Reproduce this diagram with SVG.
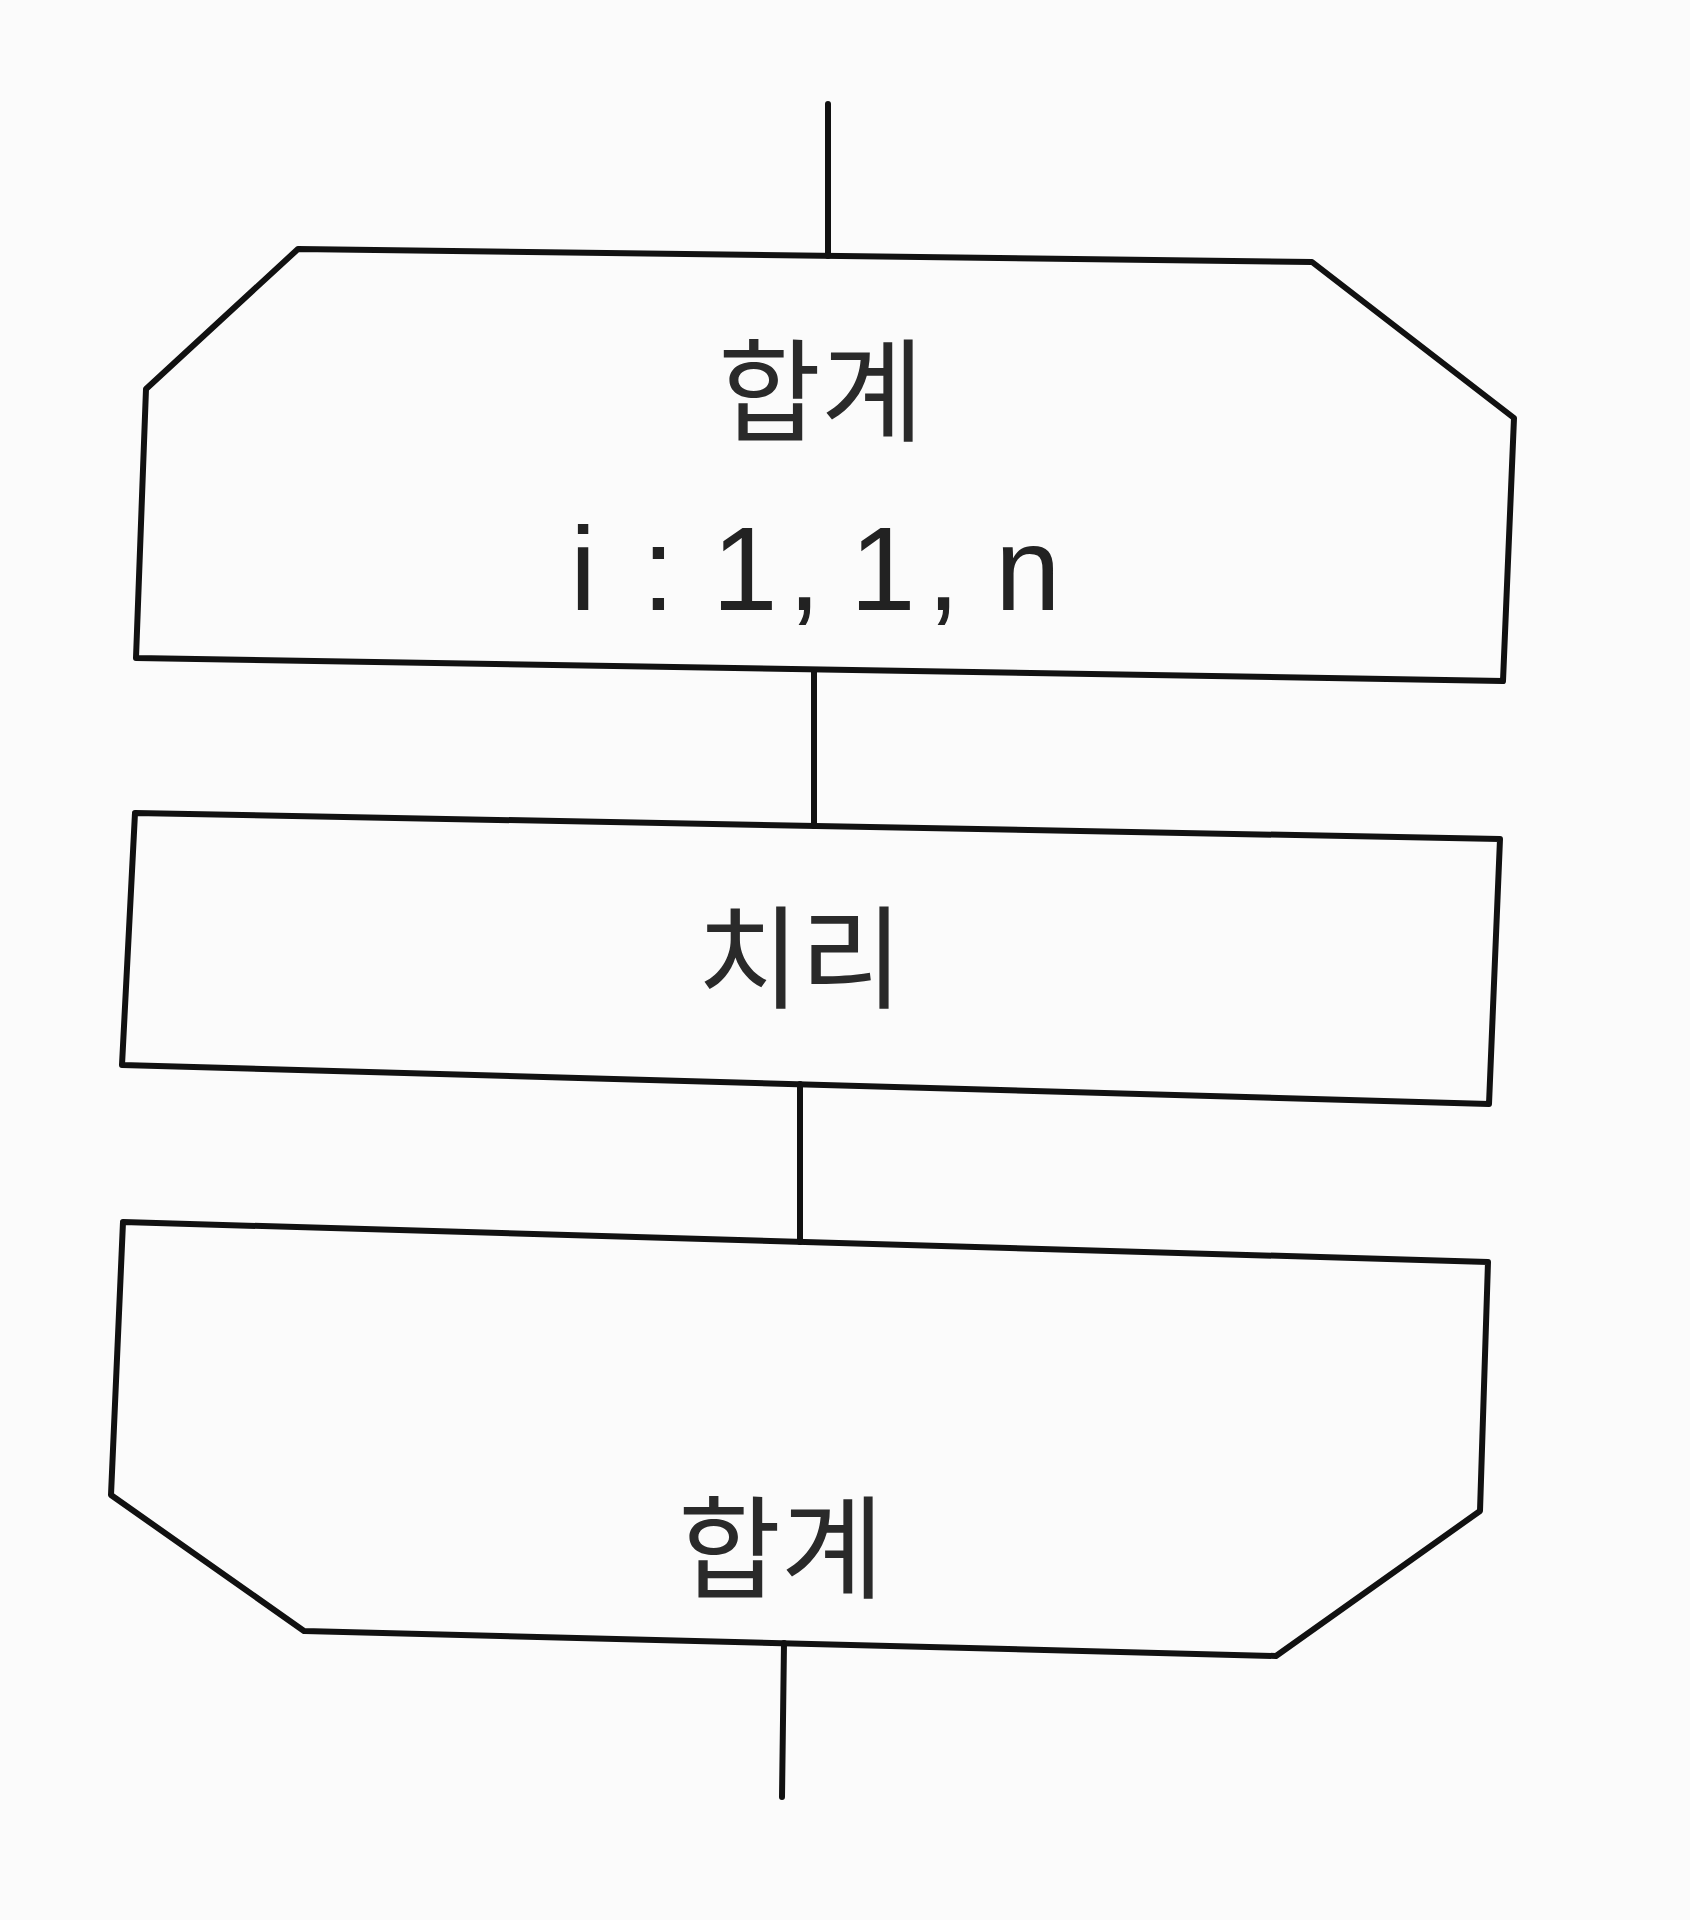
<svg xmlns="http://www.w3.org/2000/svg" width="1690" height="1920" viewBox="0 0 1690 1920">
<style>
.shape{fill:none;stroke:#111;stroke-width:6;stroke-linejoin:round}
.conn{fill:none;stroke:#111;stroke-width:6;stroke-linecap:round}
.ko{font-family:"Noto Sans CJK KR","Noto Sans",sans-serif;font-size:112px;fill:#2a2a2a;text-anchor:middle}
.lat{font-family:"Liberation Sans",Arial,sans-serif;font-size:118px;fill:#222}
</style>
<rect width="1690" height="1920" fill="#fbfbfb"/>
<g id="connectors">
<line class="conn" x1="828" y1="104" x2="828" y2="256"/>
<line class="conn" x1="814" y1="670" x2="814" y2="826"/>
<line class="conn" x1="800" y1="1084" x2="800" y2="1242"/>
<line class="conn" x1="784" y1="1643" x2="782" y2="1797"/>
</g>
<g id="loop-start">
<polygon class="shape" points="298,249 1312,262 1514,418 1503,681 136,658 146,389"/>
<text class="ko" x="821" y="433">합계</text>
<text class="lat" x="570 642 712 788 850 927 995" y="610">i:1,1,n</text>
</g>
<g id="process">
<polygon class="shape" points="135,813 1500,839 1489,1104 122,1065"/>
<text class="ko" x="800" y="1000">치리</text>
</g>
<g id="loop-end">
<polygon class="shape" points="123,1222 1488,1262 1480,1511 1276,1656 304,1631 111,1495"/>
<text class="ko" x="781" y="1590">합계</text>
</g>
</svg>
